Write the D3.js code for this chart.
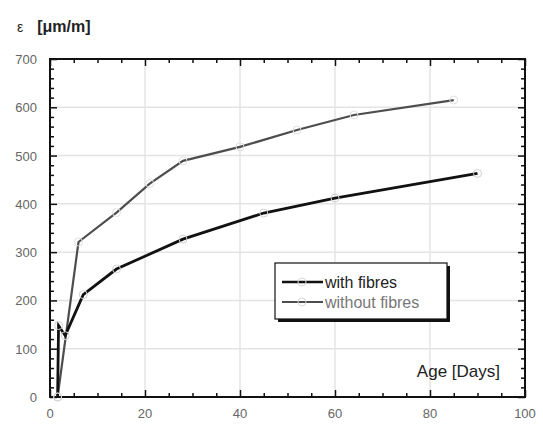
<!DOCTYPE html>
<html><head><meta charset="utf-8">
<script src="https://cdn.jsdelivr.net/npm/d3@7"></script>
<style>body{margin:0;background:#fff}svg{display:block}</style>
</head><body>
<svg id="c" width="543" height="425"></svg>
<script>
const withDays   = [1.6, 1.8, 3.2, 7, 14, 28, 45, 60, 90];
const withVals   = [0, 148, 127, 212, 265, 327, 381, 412, 463];
const withoutDays = [1.6, 6, 14, 21, 28, 40, 52, 64, 85];
const withoutVals = [0, 321, 382, 442, 489, 518, 553, 584, 615];
const xTicks = [0, 20, 40, 60, 80, 100];
const yTicks = [0, 100, 200, 300, 400, 500, 600, 700];
const seriesNames = ["with fibres", "without fibres"];

const svg = d3.select("#c");
const L = 50, R = 525, T = 59, B = 397;
const x = d3.scaleLinear().domain([0, 100]).range([L, R]);
const y = d3.scaleLinear().domain([0, 700]).range([B, T]);

// grid
svg.append("g").selectAll("line").data(xTicks.slice(1, -1)).join("line")
  .attr("x1", d => x(d)).attr("x2", d => x(d)).attr("y1", T).attr("y2", B)
  .attr("stroke", "#e4e4e4").attr("stroke-width", 1.5);
svg.append("g").selectAll("line").data(yTicks.slice(1, -1)).join("line")
  .attr("y1", d => y(d)).attr("y2", d => y(d)).attr("x1", L).attr("x2", R)
  .attr("stroke", "#e4e4e4").attr("stroke-width", 1.5);

// axes with inward ticks
const minorX = d3.range(0, 101, 5).filter(v => v % 20 !== 0);
const minorY = d3.range(0, 701, 20).filter(v => v % 100 !== 0);
function axis(gen, tr, vals, size) {
  const g = svg.append("g").attr("transform", tr)
    .call(gen.tickValues(vals).tickSize(size).tickFormat(""));
  g.select(".domain").remove();
  g.selectAll("line").attr("stroke", "#111").attr("stroke-width", 1.5);
  return g;
}
axis(d3.axisTop(x), `translate(0,${B})`, xTicks, 7);
axis(d3.axisTop(x), `translate(0,${B})`, minorX, 4);
axis(d3.axisBottom(x), `translate(0,${T})`, xTicks, 7);
axis(d3.axisBottom(x), `translate(0,${T})`, minorX, 4);
axis(d3.axisRight(y), `translate(${L},0)`, yTicks, 7);
axis(d3.axisRight(y), `translate(${L},0)`, minorY, 4);
axis(d3.axisLeft(y), `translate(${R},0)`, yTicks, 7);
axis(d3.axisLeft(y), `translate(${R},0)`, minorY, 4);

// frame
svg.append("rect").attr("x", L).attr("y", T).attr("width", R - L).attr("height", B - T)
  .attr("fill", "none").attr("stroke", "#111").attr("stroke-width", 2);

// tick labels
svg.append("g").selectAll("text").data(xTicks).join("text")
  .attr("x", d => x(d)).attr("y", 418).attr("text-anchor", "middle")
  .attr("font-family", "Liberation Sans, Arial, sans-serif").attr("font-size", 13)
  .attr("fill", "#666").text(d => d);
svg.append("g").selectAll("text").data(yTicks).join("text")
  .attr("x", 37).attr("y", d => y(d) + 5).attr("text-anchor", "end")
  .attr("font-family", "Liberation Sans, Arial, sans-serif").attr("font-size", 13)
  .attr("fill", "#666").text(d => d);

// axis titles
const t = svg.append("text").attr("x", 17).attr("y", 32)
  .attr("font-family", "Liberation Sans, Arial, sans-serif").attr("font-size", 16)
  .attr("fill", "#222");
t.append("tspan").attr("font-size", 14).text("ε");
t.append("tspan").attr("dx", 14).attr("font-weight", "bold").text("[μm/m]");
svg.append("text").attr("x", 500).attr("y", 377).attr("text-anchor", "end")
  .attr("font-family", "Liberation Sans, Arial, sans-serif").attr("font-size", 17)
  .attr("fill", "#222").text("Age [Days]");

// series
const line = d3.line().x(d => x(d[0])).y(d => y(d[1]));
const withData = withDays.map((d, i) => [d, withVals[i]]);
const withoutData = withoutDays.map((d, i) => [d, withoutVals[i]]);

function markers(data, col) {
  svg.append("g").selectAll("circle").data(data).join("circle")
    .attr("cx", d => x(d[0])).attr("cy", d => y(d[1])).attr("r", 4)
    .attr("fill", "none").attr("stroke", col).attr("stroke-width", 1);
}
svg.append("path").datum(withoutData).attr("d", line)
  .attr("fill", "none").attr("stroke", "#4d4d4d").attr("stroke-width", 2.2);
svg.append("path").datum(withData).attr("d", line)
  .attr("fill", "none").attr("stroke", "#111").attr("stroke-width", 2.8);
markers(withoutData, "#e0e0e0");
markers(withData, "#d0d0d0");

// legend
const lg = svg.append("g");
lg.append("rect").attr("x", 278).attr("y", 266).attr("width", 172).attr("height", 56).attr("fill", "#111");
lg.append("rect").attr("x", 275).attr("y", 263).attr("width", 172).attr("height", 56)
  .attr("fill", "#fff").attr("stroke", "#111").attr("stroke-width", 1.2);
const legColors = ["#111", "#4d4d4d"];
const legText = ["#222", "#777"];
seriesNames.forEach((n, i) => {
  const yy = 282 + i * 20;
  lg.append("line").attr("x1", 282).attr("x2", 323).attr("y1", yy).attr("y2", yy)
    .attr("stroke", legColors[i]).attr("stroke-width", i ? 2 : 2.6);
  lg.append("circle").attr("cx", 302).attr("cy", yy).attr("r", 4)
    .attr("fill", "none").attr("stroke", "#d8d8d8").attr("stroke-width", 1);
  lg.append("text").attr("x", 325).attr("y", yy + 6)
    .attr("font-family", "Liberation Sans, Arial, sans-serif").attr("font-size", 16)
    .attr("fill", legText[i]).text(n);
});
</script>
</body></html>
